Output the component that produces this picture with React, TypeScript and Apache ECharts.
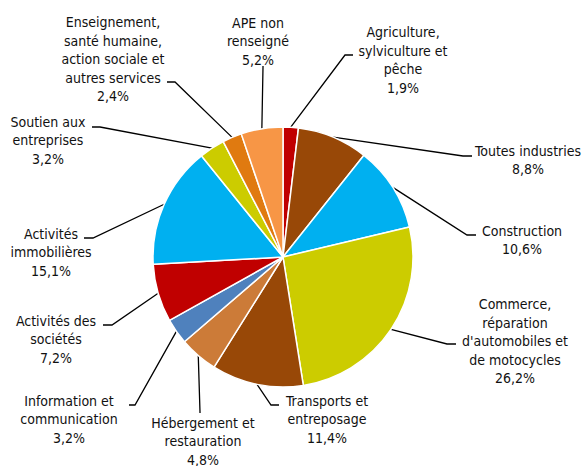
import React, { useEffect, useRef } from "react";
import * as echarts from "echarts";

const categories = [
  "Agriculture,\nsylviculture et\npêche",
  "Toutes industries",
  "Construction",
  "Commerce,\nréparation\nd'automobiles et\nde motocycles",
  "Transports et\nentreposage",
  "Hébergement et\nrestauration",
  "Information et\ncommunication",
  "Activités des\nsociétés",
  "Activités\nimmobilières",
  "Soutien aux\nentreprises",
  "Enseignement,\nsanté humaine,\naction sociale et\nautres services",
  "APE non\nrenseigné",
];

const values = [1.9, 8.8, 10.6, 26.2, 11.4, 4.8, 3.2, 7.2, 15.1, 3.2, 2.4, 5.2];

const colors = [
  "#C00000", "#984807", "#00B0F0", "#CCCC00", "#984807", "#CC7B38",
  "#4F81BD", "#C00000", "#00B0F0", "#CCCC00", "#E07A10", "#F79646",
];

// label layout: text centre (x, y), leader elbow, leader end
const labelLayouts = [
  { x: 403, y: 60, ex: 345, ey: 55, tx: 353, ty: 55 },
  { x: 528, y: 160, ex: 463, ey: 156, tx: 472, ty: 156 },
  { x: 522, y: 240, ex: 467, ey: 235, tx: 476, ty: 235 },
  { x: 515, y: 341, ex: 447, ey: 344, tx: 456, ty: 344 },
  { x: 327, y: 419, ex: 271, ey: 405, tx: 279, ty: 405 },
  { x: 203, y: 441, ex: 200, ey: 412, tx: 200, ty: 413 },
  { x: 69, y: 419, ex: 135, ey: 405, tx: 129, ty: 405 },
  { x: 56, y: 339, ex: 112, ey: 325, tx: 103, ty: 325 },
  { x: 51, y: 252, ex: 93, ey: 238, tx: 84, ty: 238 },
  { x: 48, y: 140, ex: 100, ey: 127, tx: 92, ty: 127 },
  { x: 113, y: 59, ex: 175, ey: 82, tx: 167, ty: 82 },
  { x: 258, y: 41, ex: 263, ey: 67, tx: 263, ty: 66 },
];

export default function App() {
  const ref = useRef<HTMLDivElement>(null);
  useEffect(() => {
    if (!ref.current) return;
    const chart = echarts.init(ref.current, null, { renderer: "svg" });
    chart.setOption({
      animation: false,
      series: [
        {
          type: "pie",
          center: [283, 257],
          radius: 130,
          startAngle: 90,
          clockwise: true,
          avoidLabelOverlap: false,
          itemStyle: { borderColor: "#fff", borderWidth: 1.5 },
          label: {
            show: true,
            position: "outside",
            formatter: (p: any) =>
              p.name + "\n" + String(p.value).replace(".", ",") + "%",
            fontFamily: "DejaVu Sans Condensed",
            fontSize: 14,
            lineHeight: 18.5,
            color: "#111",
            align: "center",
          },
          labelLine: {
            show: true,
            length: 10,
            length2: 10,
            lineStyle: { color: "#000", width: 1.3 },
          },
          labelLayout: (params: any) => {
            const L = labelLayouts[params.dataIndex];
            const pts = params.labelLinePoints;
            const start = pts ? pts[0] : [L.ex, L.ey];
            return {
              x: L.x,
              y: L.y,
              align: "center",
              verticalAlign: "middle",
              labelLinePoints: [
                [start[0], start[1]],
                [L.ex, L.ey],
                [L.tx, L.ty],
              ],
            };
          },
          data: categories.map((name, i) => ({
            name,
            value: values[i],
            itemStyle: { color: colors[i] },
          })),
        },
      ],
    });
    return () => chart.dispose();
  }, []);
  return (
    <div
      ref={ref}
      style={{ position: "absolute", left: 0, top: 0, width: 585, height: 466 }}
    />
  );
}
